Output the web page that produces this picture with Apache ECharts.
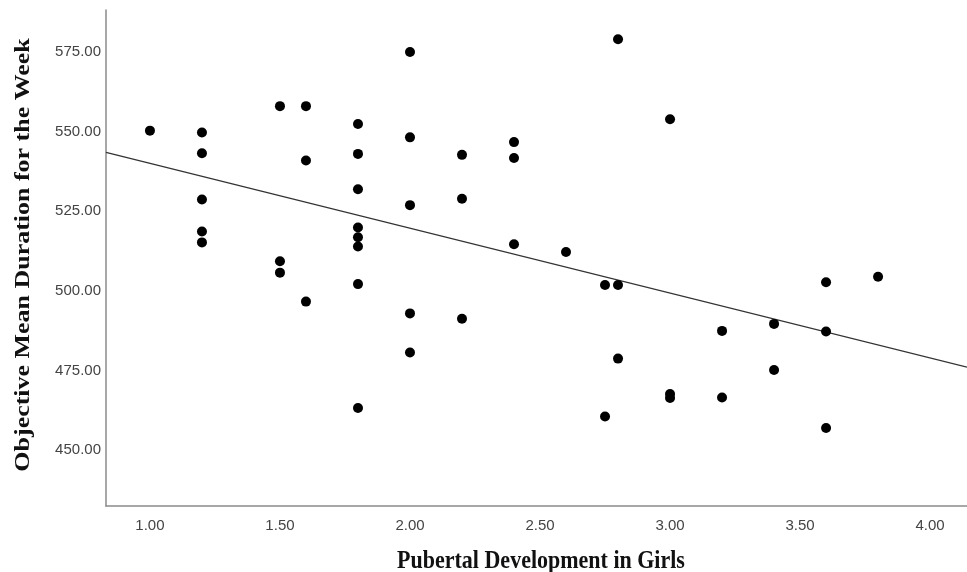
<!DOCTYPE html>
<html>
<head>
<meta charset="utf-8">
<script src="https://cdn.jsdelivr.net/npm/echarts@6/dist/echarts.min.js"></script>
<style>html,body{margin:0;padding:0;background:#fff;}#chart{width:967px;height:572px;}</style>
</head>
<body>
<div id="chart"></div>
<script>
// Pubertal development score (x) and objective mean sleep duration (y)
const pubertalScore = [
  1.0, 1.2, 1.2, 1.2, 1.2, 1.2, 1.5, 1.6, 1.6, 1.8,
  1.8, 1.8, 1.8, 1.8, 1.8, 2.0, 2.0, 2.0, 1.5, 1.5,
  1.8, 1.6, 2.0, 2.0, 1.8, 2.8, 3.0, 2.2, 2.4, 2.4,
  2.2, 2.4, 2.6, 2.2, 2.75, 2.8, 2.8, 2.75, 3.0, 3.0,
  3.2, 3.2, 3.6, 3.8, 3.4, 3.6, 3.4, 3.6
];
const meanDuration = [
  550.3, 549.7, 543.2, 528.7, 518.6, 515.2, 558.0, 558.0, 540.9, 552.4,
  543.0, 531.9, 519.9, 516.8, 513.9, 575.0, 548.2, 526.9, 509.3, 505.7,
  502.1, 496.6, 492.9, 480.6, 463.2, 579.0, 553.9, 542.7, 546.7, 541.7,
  528.9, 514.6, 512.2, 491.2, 501.8, 501.8, 478.7, 460.5, 467.6, 466.3,
  487.4, 466.5, 502.7, 504.4, 489.6, 487.2, 475.1, 456.9
];
// Linear fit line (intercept, slope)
const fitIntercept = 560.4;
const fitSlope = -20.37;
// Tick labels and titles
const xTicks = [1.0, 1.5, 2.0, 2.5, 3.0, 3.5, 4.0];
const yTicks = [450, 475, 500, 525, 550, 575];
const xRange = [0.831, 4.142];
const yRange = [432.4, 588.2];
const xTitle = 'Pubertal Development in Girls';
const yTitle = 'Objective Mean Duration for the Week';

const points = pubertalScore.map((x, i) => [x, meanDuration[i]]);
const fitLine = xRange.map(x => [x, fitIntercept + fitSlope * x]);

const titleStyle = {
  fontFamily: 'Liberation Serif', fontWeight: 'bold', fontSize: 22,
  fill: '#111', align: 'center', verticalAlign: 'middle'
};

const chart = echarts.init(document.getElementById('chart'));
chart.setOption({
  animation: false,
  backgroundColor: '#ffffff',
  grid: { left: 106, right: 0, top: 10, bottom: 66, containLabel: false },
  xAxis: {
    type: 'value', min: xRange[0], max: xRange[1],
    axisLine: { show: true, onZero: false, lineStyle: { color: '#8a8a8a', width: 1.5 } },
    axisTick: { show: false },
    splitLine: { show: false },
    axisLabel: {
      customValues: xTicks, formatter: v => v.toFixed(2), margin: 12,
      fontFamily: 'Liberation Sans', fontSize: 15, color: '#444'
    }
  },
  yAxis: {
    type: 'value', min: yRange[0], max: yRange[1],
    axisLine: { show: true, onZero: false, lineStyle: { color: '#8a8a8a', width: 1.5 } },
    axisTick: { show: false },
    splitLine: { show: false },
    axisLabel: {
      customValues: yTicks, formatter: v => v.toFixed(2), margin: 5,
      fontFamily: 'Liberation Sans', fontSize: 15, color: '#444'
    }
  },
  graphic: [
    {
      type: 'text', x: 541, y: 561, scaleY: 1.18, silent: true,
      style: Object.assign({ text: xTitle }, titleStyle)
    },
    {
      type: 'text', x: 23, y: 255, rotation: Math.PI / 2, scaleX: 1.18, silent: true,
      style: Object.assign({ text: yTitle }, titleStyle)
    }
  ],
  series: [
    {
      type: 'line', data: fitLine, symbol: 'none', silent: true,
      lineStyle: { color: '#333', width: 1.2 }, z: 1
    },
    {
      type: 'scatter', data: points, symbol: 'circle', symbolSize: 10,
      itemStyle: { color: '#000', opacity: 1 }, z: 2
    }
  ]
});
</script>
</body>
</html>
